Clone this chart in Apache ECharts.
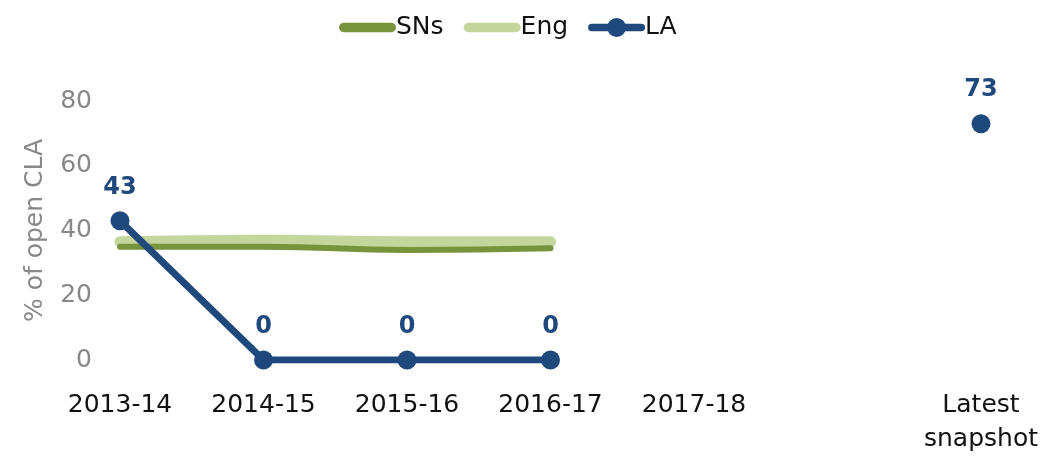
<!DOCTYPE html>
<html>
<head>
<meta charset="utf-8">
<script src="https://cdn.jsdelivr.net/npm/echarts@6/dist/echarts.min.js"></script>
<style>
  html, body { margin: 0; padding: 0; background: #fff; }
  #chartLineBox { width: 1046px; height: 459px; }
</style>
</head>
<body>
<div id="chartLineBox"></div>
<script>
// categories (blank slot sits between 2017-18 and the latest snapshot)
var categories = ['2013-14', '2014-15', '2015-16', '2016-17', '2017-18', '', 'Latest\nsnapshot'];
var snsData = [35, 35, 34, 34.5, null, null, null];
var engData = [36.5, 37, 36.5, 36.5, null, null, null];
var laData = [43, 0, 0, 0, null, null, 73];
var yTicks = [0, 20, 40, 60, 80];

var fontName = '"DejaVu Sans", "Open Sans", sans-serif';
// legend icons: thick rounded bar, and bar with a dot for LA
var barIcon = 'path://M5,5 L55,5 A5,5 0 0,1 55,15 L5,15 A5,5 0 0,1 5,5 Z';
var dotIcon = 'path://M4,6 L56,6 A4,4 0 0,1 56,14 L4,14 A4,4 0 0,1 4,6 Z M20,10 A10,10 0 1,1 40,10 A10,10 0 1,1 20,10 Z';

var chartLine = echarts.init(document.getElementById('chartLineBox'));

var option = {
  animation: false,
  textStyle: { fontFamily: fontName },
  legend: {
    top: 10,
    left: 334,
    itemWidth: 57,
    itemHeight: 19,
    itemGap: 20,
    textStyle: { fontSize: 25, color: '#111', fontFamily: fontName, padding: [0, 0, 0, -5] },
    data: [
      { name: 'SNs', icon: barIcon, itemStyle: { color: '#77933C' } },
      { name: 'Eng', icon: barIcon, itemStyle: { color: '#C3D69B' } },
      { name: 'LA', icon: dotIcon, itemStyle: { color: '#1F497D' } }
    ]
  },
  grid: { left: 120, right: 65, top: 101, bottom: 99 },
  xAxis: {
    type: 'category',
    boundaryGap: false,
    data: categories,
    axisLine: { show: false },
    axisTick: { show: false },
    axisLabel: { fontSize: 25, color: '#111', margin: 28, lineHeight: 34, interval: 0 }
  },
  yAxis: {
    type: 'value',
    min: yTicks[0],
    max: yTicks[yTicks.length - 1],
    interval: 20,
    name: '% of open CLA',
    nameLocation: 'middle',
    nameGap: 72,
    nameTextStyle: { fontSize: 25, color: '#888' },
    axisLine: { show: false },
    axisTick: { show: false },
    splitLine: { show: false },
    axisLabel: { fontSize: 25, color: '#888', margin: 28 }
  },
  series: [
    {
      name: 'Eng',
      type: 'line',
      smooth: true,
      data: engData,
      symbol: 'none',
      lineStyle: { width: 11, color: '#C3D69B', cap: 'round' },
      itemStyle: { color: '#C3D69B' },
      z: 1
    },
    {
      name: 'SNs',
      type: 'line',
      smooth: true,
      data: snsData,
      symbol: 'none',
      lineStyle: { width: 6, color: '#77933C', cap: 'round' },
      itemStyle: { color: '#77933C' },
      z: 2
    },
    {
      name: 'LA',
      type: 'line',
      data: laData,
      connectNulls: false,
      symbol: 'circle',
      symbolSize: 19,
      lineStyle: { width: 7, color: '#1F497D' },
      itemStyle: { color: '#1F497D' },
      label: {
        show: true,
        position: 'top',
        distance: 12,
        fontSize: 24,
        fontWeight: 'bold',
        color: '#1F497D'
      },
      z: 3
    }
  ]
};
chartLine.setOption(option);
</script>
</body>
</html>
